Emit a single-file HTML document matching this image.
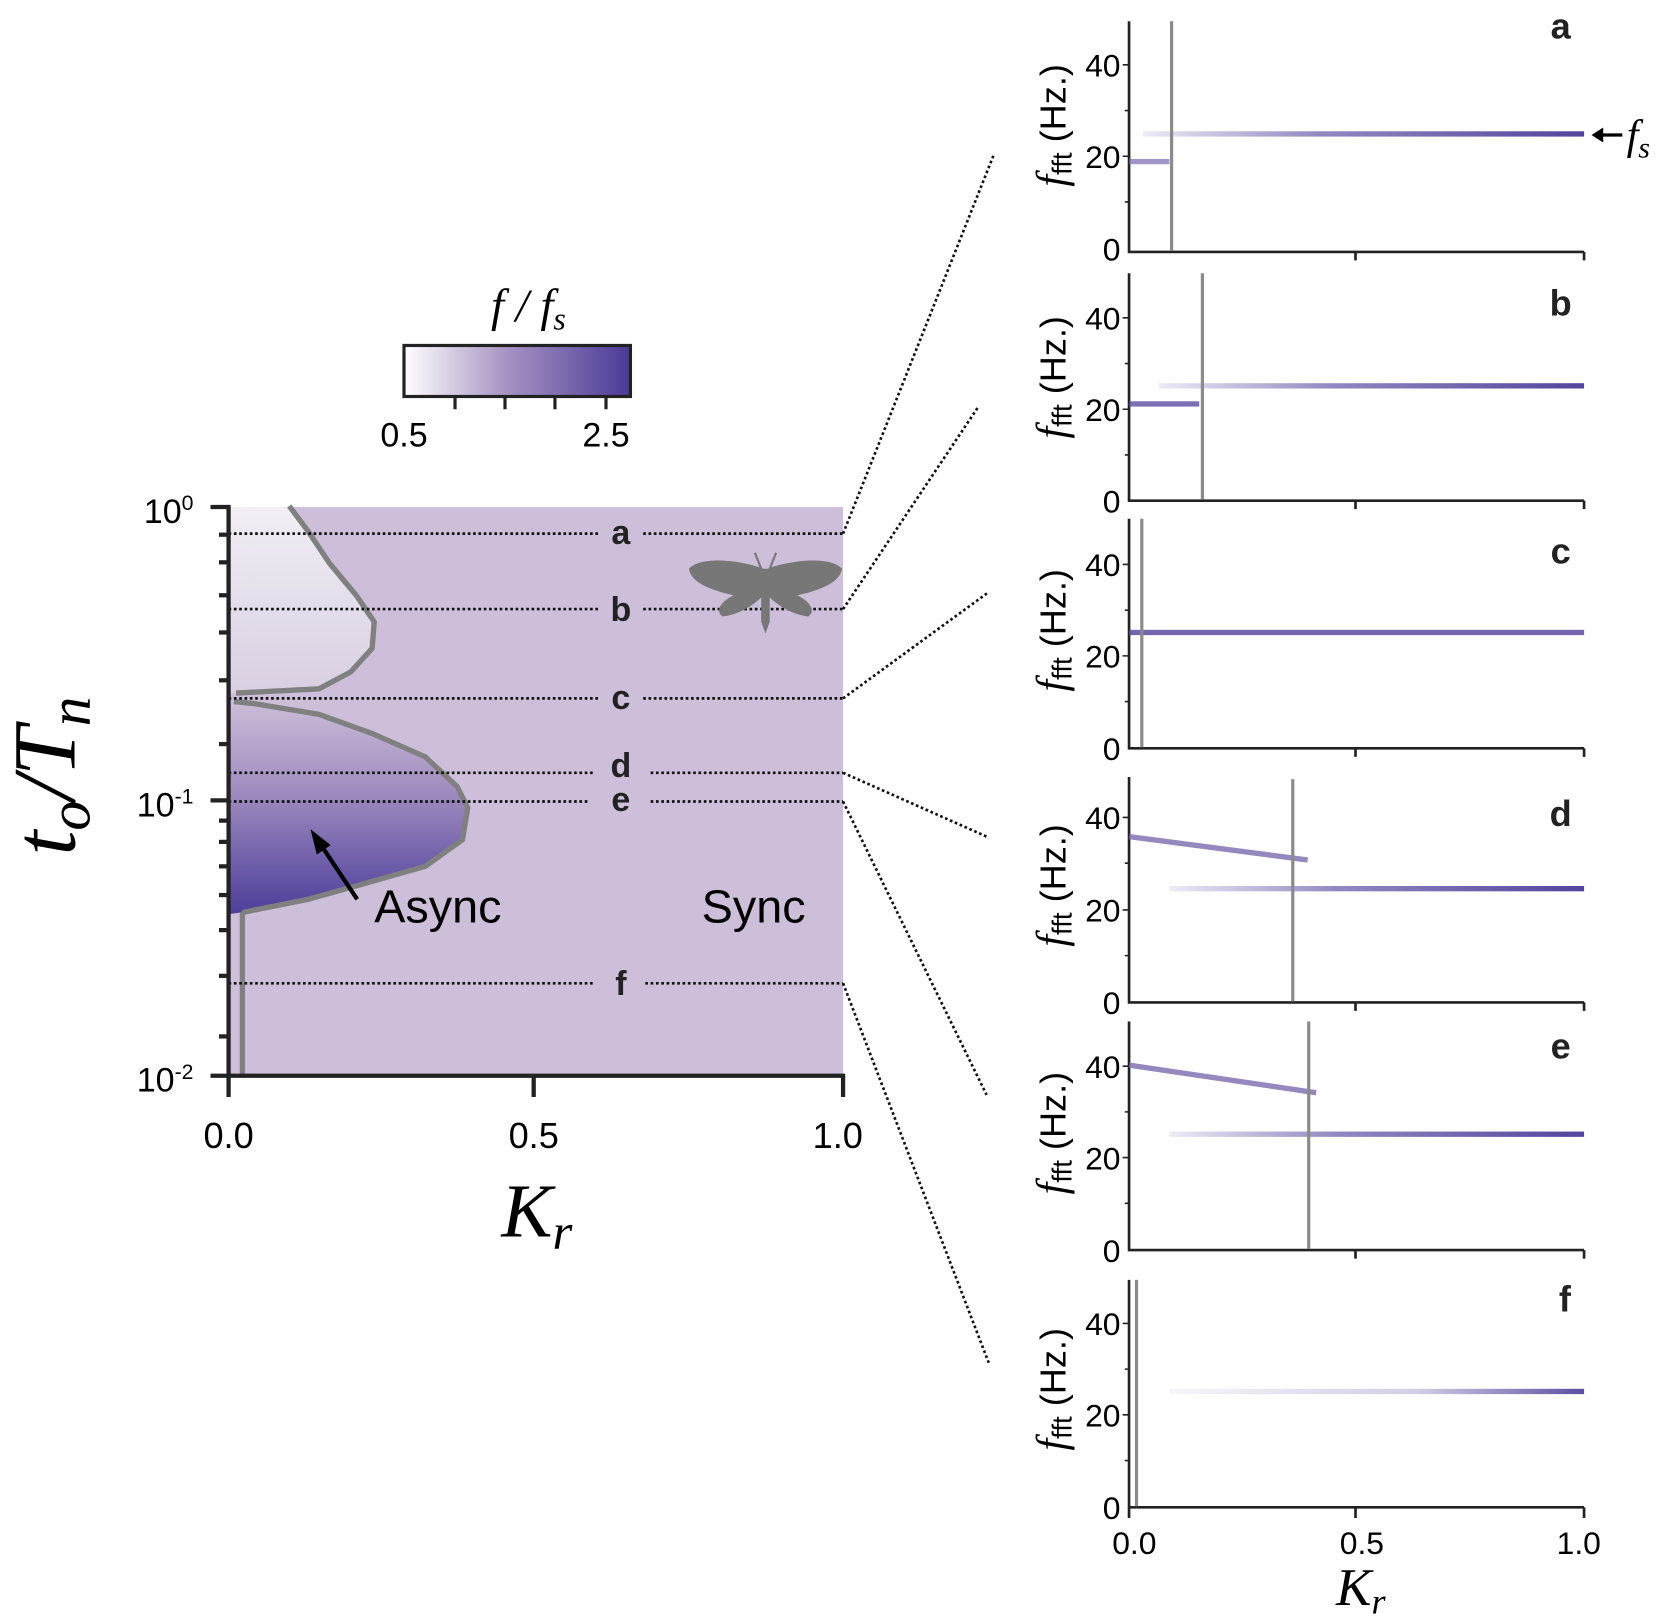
<!DOCTYPE html>
<html><head><meta charset="utf-8"><style>html,body{margin:0;padding:0;background:#fff}svg{display:block}</style></head>
<body>
<svg width="1667" height="1620" viewBox="0 0 1568 1524" preserveAspectRatio="none" xmlns="http://www.w3.org/2000/svg" font-family="Liberation Sans, sans-serif">
<defs>
<linearGradient id="cb" x1="0" x2="1" y1="0" y2="0"><stop offset="0" stop-color="#ffffff"/><stop offset="0.45" stop-color="#a793c2"/><stop offset="1" stop-color="#4a3a98"/></linearGradient>
<linearGradient id="top" x1="0" x2="0" y1="0" y2="1"><stop offset="0" stop-color="#f1eef4"/><stop offset="1" stop-color="#d9cfe2"/></linearGradient>
<linearGradient id="low" x1="0" x2="0" y1="0" y2="1"><stop offset="0" stop-color="#cbbcd8"/><stop offset="0.4" stop-color="#a28fc0"/><stop offset="1" stop-color="#4d3e9a"/></linearGradient>
<linearGradient id="fs" x1="0" x2="1" y1="0" y2="0"><stop offset="0" stop-color="#4a3a98" stop-opacity="0.1"/><stop offset="0.4" stop-color="#4a3a98" stop-opacity="0.6"/><stop offset="1" stop-color="#4a3a98" stop-opacity="0.95"/></linearGradient>
<linearGradient id="fsf" x1="0" x2="1" y1="0" y2="0"><stop offset="0" stop-color="#4a3a98" stop-opacity="0.05"/><stop offset="0.6" stop-color="#4a3a98" stop-opacity="0.25"/><stop offset="1" stop-color="#4a3a98" stop-opacity="0.9"/></linearGradient>
</defs>

<!-- colorbar -->
<text x="497" y="302" font-family="Liberation Serif, serif" font-style="italic" font-size="44" text-anchor="middle">f / f<tspan font-size="30" dy="8">s</tspan></text>
<rect x="380" y="325" width="213" height="48" fill="url(#cb)" stroke="#222" stroke-width="3"/>
<g stroke="#222" stroke-width="3"><line x1="428" y1="373" x2="428" y2="385"/><line x1="475" y1="373" x2="475" y2="385"/><line x1="522" y1="373" x2="522" y2="385"/><line x1="570" y1="373" x2="570" y2="385"/></g>
<text x="380" y="420" font-size="32" text-anchor="middle">0.5</text>
<text x="570" y="420" font-size="32" text-anchor="middle">2.5</text>

<!-- main plot -->
<rect x="215" y="477" width="578" height="535" fill="#cdbfd9"/>
<path d="M215,477 L272,477 L290,500 L310,530 L335,560 L350,585 L348,610 L330,630 L300,648 L222,652 L215,652Z" fill="url(#top)"/>
<path d="M215,660 L240,662 L300,672 L350,690 L400,712 L430,740 L440,760 L435,790 L400,815 L340,832 L290,846 L230,858 L215,860Z" fill="url(#low)"/>
<path d="M272,476 L290,500 L310,530 L335,560 L352,585 L350,610 L330,632 L300,648 L222,652" fill="none" stroke="#808080" stroke-width="5"/>
<path d="M220,660 L240,662 L300,672 L350,690 L400,712 L430,740 L440,760 L435,790 L400,815 L340,832 L290,846 L230,858 L228,860 L228,1012" fill="none" stroke="#808080" stroke-width="5"/>

<g stroke="#111" stroke-width="2.5" stroke-dasharray="2.5,2.5">
<line x1="215" y1="502" x2="565" y2="502"/><line x1="605" y1="502" x2="793" y2="502"/>
<line x1="215" y1="573" x2="565" y2="573"/><line x1="605" y1="573" x2="793" y2="573"/>
<line x1="215" y1="657" x2="565" y2="657"/><line x1="605" y1="657" x2="793" y2="657"/>
<line x1="215" y1="727" x2="560" y2="727"/><line x1="612" y1="727" x2="793" y2="727"/>
<line x1="215" y1="754" x2="555" y2="754"/><line x1="612" y1="754" x2="793" y2="754"/>
<line x1="215" y1="925" x2="560" y2="925"/><line x1="607" y1="925" x2="793" y2="925"/>
<line x1="793" y1="502" x2="935" y2="145"/><line x1="793" y1="573" x2="920" y2="383"/>
<line x1="793" y1="657" x2="930" y2="557"/><line x1="793" y1="727" x2="928" y2="787"/>
<line x1="793" y1="754" x2="928" y2="1030"/><line x1="793" y1="925" x2="930" y2="1282"/>
</g>
<g font-size="32" font-weight="bold" text-anchor="middle" fill="#222">
<text x="584" y="512">a</text><text x="584" y="584">b</text><text x="584" y="667">c</text>
<text x="584" y="731">d</text><text x="584" y="763">e</text><text x="584" y="936">f</text></g>

<!-- moth -->
<g fill="#777">
<path d="M718,535 C700,528 660,522 648,535 C650,548 668,555 690,560 C678,566 672,575 680,580 C695,578 708,570 716,562 L716,585 L720,596 L724,585 L724,562 C732,570 745,578 760,580 C768,575 762,566 750,560 C772,555 790,548 792,535 C780,522 740,528 722,535 Z"/>
<path d="M716,535 L710,520 M724,535 L730,520" stroke="#777" stroke-width="2"/>
</g>

<!-- arrow -->
<line x1="336" y1="846" x2="302" y2="795" stroke="#000" stroke-width="4"/>
<polygon points="292,780 311,795 298,804" fill="#000"/>
<text x="352" y="868" font-size="44">Async</text>
<text x="660" y="868" font-size="44">Sync</text>

<!-- axes -->
<g stroke="#222" stroke-width="4">
<line x1="215" y1="475" x2="215" y2="1014"/><line x1="213" y1="1012" x2="795" y2="1012"/>
<line x1="502" y1="1012" x2="502" y2="1032"/><line x1="793" y1="1012" x2="793" y2="1032"/><line x1="215" y1="1012" x2="215" y2="1032"/>
<line x1="198" y1="477" x2="215" y2="477"/><line x1="198" y1="753" x2="215" y2="753"/><line x1="198" y1="1012" x2="215" y2="1012"/>
<line x1="206" y1="503" x2="215" y2="503"/><line x1="206" y1="529" x2="215" y2="529"/><line x1="206" y1="560" x2="215" y2="560"/><line x1="206" y1="595" x2="215" y2="595"/><line x1="206" y1="640" x2="215" y2="640"/><line x1="206" y1="700" x2="215" y2="700"/>
<line x1="206" y1="772" x2="215" y2="772"/><line x1="206" y1="792" x2="215" y2="792"/><line x1="206" y1="815" x2="215" y2="815"/><line x1="206" y1="842" x2="215" y2="842"/><line x1="206" y1="875" x2="215" y2="875"/><line x1="206" y1="918" x2="215" y2="918"/><line x1="206" y1="975" x2="215" y2="975"/>
</g>
<g font-size="32" text-anchor="end"><text x="182" y="492">10<tspan font-size="20" dy="-12">0</tspan></text><text x="182" y="768">10<tspan font-size="20" dy="-12">-1</tspan></text><text x="182" y="1027">10<tspan font-size="20" dy="-12">-2</tspan></text></g>
<g font-size="34" text-anchor="middle"><text x="215" y="1080">0.0</text><text x="502" y="1080">0.5</text><text x="788" y="1080">1.0</text></g>
<text x="505" y="1163" font-family="Liberation Serif, serif" font-style="italic" font-size="72" text-anchor="middle">K<tspan font-size="48" dy="12">r</tspan></text>
<text transform="translate(70,730) rotate(-90)" font-family="Liberation Serif, serif" font-style="italic" font-size="84" text-anchor="middle">t<tspan font-size="56" dy="14">o</tspan><tspan dy="-14">/T</tspan><tspan font-size="56" dy="14">n</tspan></text>

<!-- right panels -->
<g stroke="#222" stroke-width="2.5" fill="none">
<path d="M1062,20 V237 H1490 M1062,257 V471 H1490 M1062,488 V704 H1490 M1062,731 V943 H1490 M1062,961 V1176 H1490 M1062,1204 V1418 H1490"/>
<path d="M1275,237 v8 M1490,237 v8 M1275,471 v8 M1490,471 v8 M1275,704 v8 M1490,704 v8 M1275,943 v8 M1490,943 v8 M1275,1176 v8 M1490,1176 v8 M1275,1418 v10 M1490,1418 v10 M1062,1418 v10"/>
</g>
<g stroke="#222" stroke-width="1.5">
<path d="M1062,61 h-6 M1062,147 h-6 M1062,104 h-4 M1062,190 h-4 M1062,299 h-6 M1062,385 h-6 M1062,342 h-4 M1062,428 h-4 M1062,531 h-6 M1062,617 h-6 M1062,574 h-4 M1062,660 h-4 M1062,769 h-6 M1062,856 h-6 M1062,812 h-4 M1062,899 h-4 M1062,1003 h-6 M1062,1089 h-6 M1062,1046 h-4 M1062,1132 h-4 M1062,1245 h-6 M1062,1331 h-6 M1062,1288 h-4 M1062,1374 h-4"/>
</g>
<!-- spectral lines -->
<rect x="1062" y="149.5" width="38" height="5" fill="#7a6aae" fill-opacity="0.7"/>
<rect x="1075" y="123.5" width="415" height="5" fill="url(#fs)"/>
<rect x="1062" y="377.5" width="66" height="5" fill="#5a4aa0" fill-opacity="0.8"/>
<rect x="1090" y="360.5" width="400" height="5" fill="url(#fs)"/>
<rect x="1062" y="592.5" width="428" height="5" fill="#5a4aa0" fill-opacity="0.85"/>
<line x1="1062" y1="787" x2="1230" y2="809" stroke="#7a6aae" stroke-opacity="0.8" stroke-width="5"/>
<rect x="1100" y="833.5" width="390" height="5" fill="url(#fs)"/>
<line x1="1062" y1="1002" x2="1238" y2="1028" stroke="#7a6aae" stroke-opacity="0.8" stroke-width="5"/>
<rect x="1100" y="1064.5" width="390" height="5" fill="url(#fs)"/>
<rect x="1100" y="1306.5" width="390" height="5" fill="url(#fsf)"/>
<g stroke="#8a8a8a" stroke-width="3">
<line x1="1102" y1="20" x2="1102" y2="236"/><line x1="1131" y1="257" x2="1131" y2="470"/><line x1="1074" y1="488" x2="1074" y2="703"/>
<line x1="1216" y1="733" x2="1216" y2="942"/><line x1="1231" y1="961" x2="1231" y2="1175"/><line x1="1069" y1="1204" x2="1069" y2="1417"/>
</g>
<g font-size="30" text-anchor="end">
<text x="1054" y="72">40</text><text x="1054" y="158">20</text><text x="1054" y="245">0</text>
<text x="1054" y="310">40</text><text x="1054" y="396">20</text><text x="1054" y="482">0</text>
<text x="1054" y="542">40</text><text x="1054" y="628">20</text><text x="1054" y="715">0</text>
<text x="1054" y="780">40</text><text x="1054" y="867">20</text><text x="1054" y="954">0</text>
<text x="1054" y="1014">40</text><text x="1054" y="1100">20</text><text x="1054" y="1187">0</text>
<text x="1054" y="1256">40</text><text x="1054" y="1342">20</text><text x="1054" y="1429">0</text>
</g>
<g font-size="34">
<text transform="translate(1002,118) rotate(-90)" text-anchor="middle"><tspan font-family="Liberation Serif, serif" font-style="italic" font-size="40">f</tspan><tspan font-size="26" dy="6">fft</tspan><tspan dy="-6">  (Hz.)</tspan></text>
<text transform="translate(1002,355) rotate(-90)" text-anchor="middle"><tspan font-family="Liberation Serif, serif" font-style="italic" font-size="40">f</tspan><tspan font-size="26" dy="6">fft</tspan><tspan dy="-6">  (Hz.)</tspan></text>
<text transform="translate(1002,593) rotate(-90)" text-anchor="middle"><tspan font-family="Liberation Serif, serif" font-style="italic" font-size="40">f</tspan><tspan font-size="26" dy="6">fft</tspan><tspan dy="-6">  (Hz.)</tspan></text>
<text transform="translate(1002,833) rotate(-90)" text-anchor="middle"><tspan font-family="Liberation Serif, serif" font-style="italic" font-size="40">f</tspan><tspan font-size="26" dy="6">fft</tspan><tspan dy="-6">  (Hz.)</tspan></text>
<text transform="translate(1002,1066) rotate(-90)" text-anchor="middle"><tspan font-family="Liberation Serif, serif" font-style="italic" font-size="40">f</tspan><tspan font-size="26" dy="6">fft</tspan><tspan dy="-6">  (Hz.)</tspan></text>
<text transform="translate(1002,1307) rotate(-90)" text-anchor="middle"><tspan font-family="Liberation Serif, serif" font-style="italic" font-size="40">f</tspan><tspan font-size="26" dy="6">fft</tspan><tspan dy="-6">  (Hz.)</tspan></text>
</g>
<g font-size="34" font-weight="bold" text-anchor="middle" fill="#222">
<text x="1468" y="36">a</text><text x="1468" y="297">b</text><text x="1468" y="530">c</text><text x="1468" y="777">d</text><text x="1468" y="996">e</text><text x="1472" y="1234">f</text></g>
<g font-size="30" text-anchor="middle"><text x="1067" y="1462">0.0</text><text x="1281" y="1462">0.5</text><text x="1485" y="1462">1.0</text></g>
<text x="1280" y="1510" font-family="Liberation Serif, serif" font-style="italic" font-size="50" text-anchor="middle">K<tspan font-size="34" dy="8">r</tspan></text>
<line x1="1502" y1="127" x2="1526" y2="127" stroke="#000" stroke-width="3"/>
<polygon points="1497,127 1508,120 1508,134" fill="#000"/>
<text x="1530" y="140" font-family="Liberation Serif, serif" font-style="italic" font-size="40">f<tspan font-size="28" dy="8">s</tspan></text>
</svg>
</body></html>
